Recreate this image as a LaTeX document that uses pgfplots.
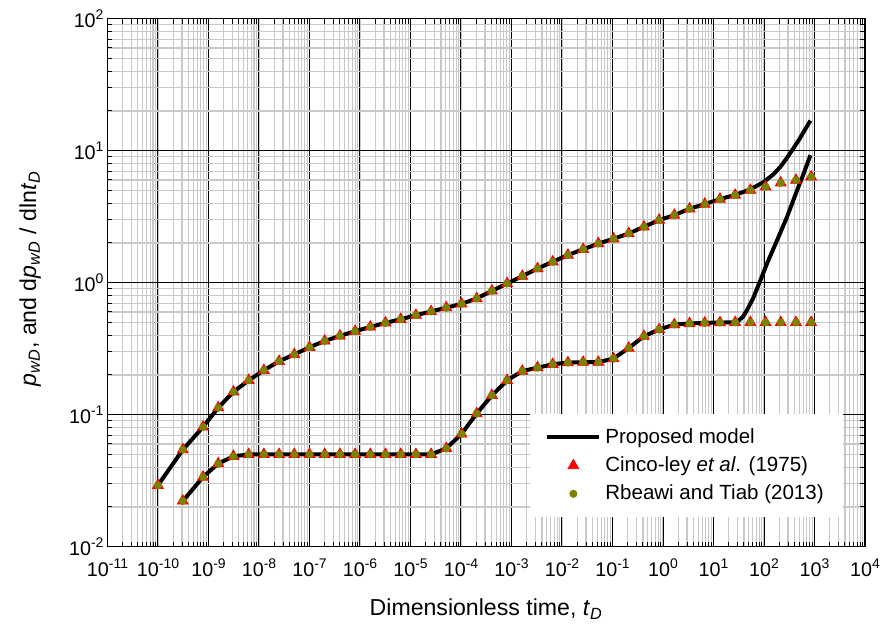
\documentclass[border=0pt]{standalone}
\usepackage{fontspec}
\setmainfont{Liberation Sans}
\usepackage{pgfplots}
\pgfplotsset{compat=1.18}
\usepackage{pgfplotstable}
\definecolor{oliv}{RGB}{128,128,0}
\newcommand{\tl}[1]{{\fontsize{9.9}{11}\selectfont 10\raisebox{0.42em}{\fontsize{7}{7}\selectfont #1}}}

\pgfplotstableread{
t p
1e-10 0.0292
3.1e-10 0.0543
7.8e-10 0.0807
1.56e-9 0.113
3.12e-9 0.149
6.25e-9 0.182
1.25e-8 0.217
2.5e-8 0.254
5e-8 0.286
1e-7 0.324
2e-7 0.362
4e-7 0.395
8e-7 0.429
1.6e-6 0.462
3.2e-6 0.496
6.4e-6 0.528
1.28e-5 0.567
2.56e-5 0.605
5.12e-5 0.646
1.024e-4 0.692
2.048e-4 0.759
4.096e-4 0.867
8.192e-4 0.986
1.638e-3 1.12
3.277e-3 1.28
6.554e-3 1.44
1.311e-2 1.62
2.621e-2 1.79
5.243e-2 1.98
0.1049 2.15
0.2097 2.36
0.4194 2.65
0.8389 2.98
1.678 3.25
3.355 3.63
6.711 3.94
13.42 4.30
26.84 4.61
53.69 5.02
107.4 5.32
214.7 5.71
429.5 5.98
859.0 6.34
}\upperdata

\pgfplotstableread{
t d
3.1e-10 0.0222
7.8e-10 0.0337
1.56e-9 0.0426
3.12e-9 0.0484
6.25e-9 0.0500
1.25e-8 0.0501
2.5e-8 0.0501
5e-8 0.0501
1e-7 0.0501
2e-7 0.0501
4e-7 0.0501
8e-7 0.0501
1.6e-6 0.0501
3.2e-6 0.0501
6.4e-6 0.0501
1.28e-5 0.0501
2.56e-5 0.0501
5.12e-5 0.0555
1.024e-4 0.0715
2.048e-4 0.102
4.096e-4 0.140
8.192e-4 0.182
1.638e-3 0.214
3.277e-3 0.227
6.554e-3 0.241
1.311e-2 0.248
2.621e-2 0.250
5.243e-2 0.250
0.1049 0.266
0.2097 0.320
0.4194 0.393
0.8389 0.442
1.678 0.482
3.355 0.491
6.711 0.496
13.42 0.499
26.84 0.500
53.69 0.500
107.4 0.500
214.7 0.500
429.5 0.500
859.0 0.500
}\lowerdata

\pgfplotstableread{
t p
1e-10 0.0292
3.1e-10 0.0543
7.8e-10 0.0807
1.56e-9 0.113
3.12e-9 0.149
6.25e-9 0.182
1.25e-8 0.217
2.5e-8 0.254
5e-8 0.286
1e-7 0.324
2e-7 0.362
4e-7 0.395
8e-7 0.429
1.6e-6 0.462
3.2e-6 0.496
6.4e-6 0.528
1.28e-5 0.567
2.56e-5 0.605
5.12e-5 0.646
1.024e-4 0.692
2.048e-4 0.759
4.096e-4 0.867
8.192e-4 0.986
1.638e-3 1.12
3.277e-3 1.28
6.554e-3 1.44
1.311e-2 1.62
2.621e-2 1.79
5.243e-2 1.98
0.1049 2.15
0.2097 2.36
0.4194 2.65
0.8389 2.98
1.678 3.25
3.355 3.63
6.711 3.94
13.42 4.30
26.84 4.62
53.69 5.10
100 5.80
155 6.65
211 7.55
290 8.90
388 10.5
500 12.2
612 13.9
830 16.9
}\modelP

\pgfplotstableread{
t d
3.1e-10 0.0222
7.8e-10 0.0337
1.56e-9 0.0426
3.12e-9 0.0484
6.25e-9 0.0500
1.25e-8 0.0501
2.56e-5 0.0501
5.12e-5 0.0555
1.024e-4 0.0715
2.048e-4 0.102
4.096e-4 0.140
8.192e-4 0.182
1.638e-3 0.214
3.277e-3 0.227
6.554e-3 0.241
1.311e-2 0.248
2.621e-2 0.250
5.243e-2 0.250
0.1049 0.266
0.2097 0.320
0.4194 0.393
0.8389 0.442
1.678 0.482
3.355 0.491
6.711 0.496
13.42 0.499
24.0 0.500
29.3 0.505
38.0 0.550
46.2 0.620
62.5 0.780
84.7 1.04
115 1.40
182 2.10
286 3.15
453 5.02
600 6.60
832 9.26
}\modelD

\begin{document}
\begin{tikzpicture}
\begin{axis}[
  scale only axis,
  width=378.75bp, height=264bp,
  xmode=log, ymode=log,
  xmin=1e-11, xmax=1e4, ymin=1e-2, ymax=1e2,
  xtick={1e-11,1e-10,1e-9,1e-8,1e-7,1e-6,1e-5,1e-4,1e-3,1e-2,1e-1,1,10,100,1000,10000},
  xticklabels={\tl{-11},\tl{-10},\tl{-9},\tl{-8},\tl{-7},\tl{-6},\tl{-5},\tl{-4},\tl{-3},\tl{-2},\tl{-1},\tl{0},\tl{1},\tl{2},\tl{3},\tl{4}},
  ytick={0.01,0.1,1,10,100},
  yticklabels={\tl{-2},\tl{-1},\tl{0},\tl{1},\tl{2}},
  xticklabel style={yshift=-2.5bp},
  yticklabel style={xshift=1.5bp},
  grid=both,
  major grid style={black, line width=0.5bp},
  minor grid style={gray!42, line width=0.6bp},
  axis line style={black, line width=0.6bp},
  tick style={black, line width=0.5bp},
  major tick length=3bp, minor tick length=2.5bp,
  xlabel={Dimensionless time, \textit{t}\textsubscript{\textit{D}}},
  ylabel={\textit{p}\textsubscript{\textit{wD}}, and d\textit{p}\textsubscript{\textit{wD}} / dln\textit{t}\textsubscript{\textit{D}}},
  label style={font=\fontsize{11.6}{13}\selectfont},
  xlabel style={at={(axis description cs:0.5,-0.118)}, anchor=center},
  ylabel style={at={(axis description cs:-0.102,0.508)}, anchor=center},
  legend style={at={(axis description cs:0.971,0.056)}, anchor=south east,
    draw=none, fill=white, font=\fontsize{10.3}{12}\selectfont,
    inner xsep=7.5bp, inner ysep=5bp, row sep=1.2bp},
  legend cell align=left,
  legend image code/.code={\draw[mark repeat=2,mark phase=2,#1] plot coordinates {(0bp,0bp) (13bp,0bp) (26bp,0bp)};},
]
\coordinate (sw) at (rel axis cs:0,0);
\coordinate (ne) at (rel axis cs:1,1);

\addplot[black, line width=2bp, no marks] table[x=t, y=p] {\modelP};
\addlegendentry{Proposed model}
\addplot[black, line width=2bp, no marks, forget plot] table[x=t, y=d] {\modelD};

\addplot[only marks, mark=triangle*, mark size=3.1bp, mark options={fill=red, draw=red}] table[x=t, y=p] {\upperdata};
\addlegendentry{Cinco-ley \textit{et al}. (1975)}
\addplot[only marks, mark=triangle*, mark size=3.1bp, mark options={fill=red, draw=red}, forget plot] table[x=t, y=d] {\lowerdata};

\addplot[only marks, mark=*, mark size=1.8bp, mark options={fill=oliv, draw=oliv}] table[x=t, y=p] {\upperdata};
\addlegendentry{Rbeawi and Tiab (2013)}
\addplot[only marks, mark=*, mark size=1.8bp, mark options={fill=oliv, draw=oliv}, forget plot] table[x=t, y=d] {\lowerdata};
\end{axis}
\pgfresetboundingbox
\path[use as bounding box] ([xshift=-53.75bp,yshift=-42.65bp]sw) rectangle ([xshift=8bp,yshift=9.35bp]ne);
\end{tikzpicture}
\end{document}
